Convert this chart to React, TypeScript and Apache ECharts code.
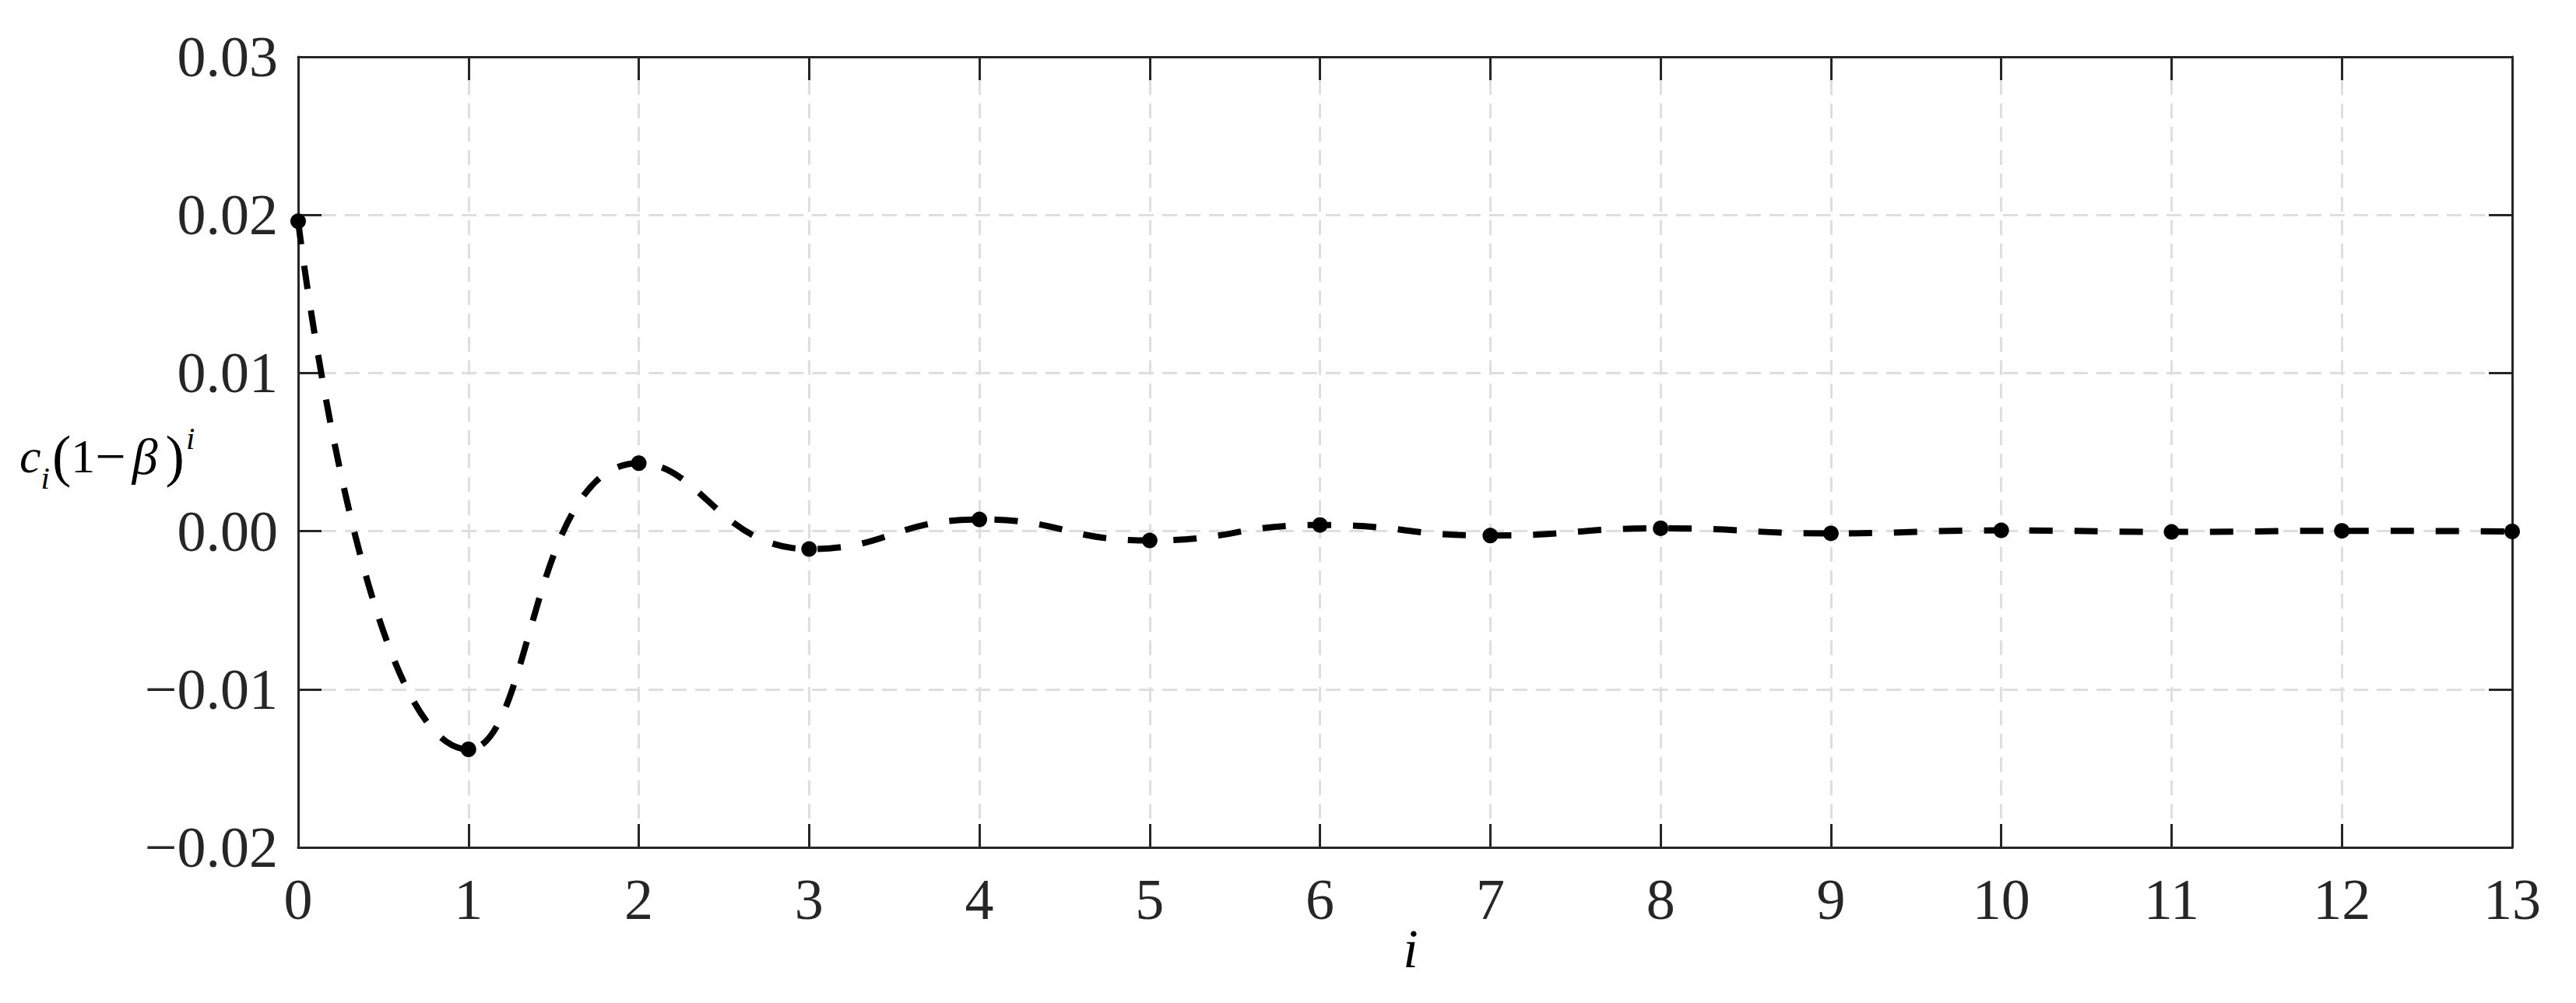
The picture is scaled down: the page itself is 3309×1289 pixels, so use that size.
import React, { useEffect, useRef } from "react";
import * as echarts from "echarts";

// Data
const indexValues = [0, 1, 2, 3, 4, 5, 6, 7, 8, 9, 10, 11, 12, 13];
const seriesValues = [
  0.0196, -0.0138, 0.0043, -0.00113, 0.00074, -0.00059, 0.00039, -0.00028,
  0.00018, -0.00014, 0.00005, -0.00005, 0.00002, -0.00002,
];
const yTickMin = -0.02;
const yTickMax = 0.03;
const yTickStep = 0.01;
const xTickMin = 0;
const xTickMax = 13;
const xTickStep = 1;

const FONT = '"Liberation Serif", "Times New Roman", serif';
const INK = "#262626";
const GRID = "#dedede";

function fmtY(v: number): string {
  const r = Math.round(v * 100) / 100;
  if (Math.abs(r) < 1e-9) return "0.00";
  return (r < 0 ? "\u2212" : "") + Math.abs(r).toFixed(2);
}

export default function App() {
  const ref = useRef<HTMLDivElement>(null);

  useEffect(() => {
    document.body.style.margin = "0";
    if (!ref.current) return;
    const chart = echarts.init(ref.current, undefined, { renderer: "svg" });

    const tickLabel = {
      color: INK,
      fontFamily: FONT,
      fontSize: 74,
    };

    const LH = 100;
    const tok = (size: number, italic: boolean, extra: any = {}) => ({
      fontFamily: FONT,
      fontSize: size,
      fontStyle: italic ? "italic" : "normal",
      fill: "#000000",
      ...extra,
    });

    chart.setOption({
      animation: false,
      backgroundColor: "#ffffff",
      grid: {
        left: 383,
        right: 82,
        top: 73,
        bottom: 200,
        containLabel: false,
      },
      xAxis: [
        {
          type: "value",
          position: "bottom",
          min: xTickMin,
          max: xTickMax,
          interval: xTickStep,
          axisLine: { show: true, onZero: false, lineStyle: { color: INK, width: 3 } },
          axisTick: { show: true, inside: true, length: 30, lineStyle: { color: INK, width: 3 } },
          axisLabel: { ...tickLabel, margin: 30 },
          splitLine: { show: true, lineStyle: { color: GRID, width: 3, type: [19, 11] } },
        },
        {
          type: "value",
          position: "top",
          min: xTickMin,
          max: xTickMax,
          interval: xTickStep,
          axisLine: { show: true, onZero: false, lineStyle: { color: INK, width: 3 } },
          axisTick: { show: true, inside: true, length: 30, lineStyle: { color: INK, width: 3 } },
          axisLabel: { show: false },
          splitLine: { show: false },
        },
      ],
      yAxis: [
        {
          type: "value",
          position: "left",
          min: yTickMin,
          max: yTickMax,
          interval: yTickStep,
          axisLine: { show: true, onZero: false, lineStyle: { color: INK, width: 3 } },
          axisTick: { show: true, inside: true, length: 30, lineStyle: { color: INK, width: 3 } },
          axisLabel: { ...tickLabel, margin: 26, formatter: fmtY },
          splitLine: { show: true, lineStyle: { color: GRID, width: 3, type: [19, 11] } },
        },
        {
          type: "value",
          position: "right",
          min: yTickMin,
          max: yTickMax,
          interval: yTickStep,
          axisLine: { show: true, onZero: false, lineStyle: { color: INK, width: 3 } },
          axisTick: { show: true, inside: true, length: 30, lineStyle: { color: INK, width: 3 } },
          axisLabel: { show: false },
          splitLine: { show: false },
        },
      ],
      series: [
        {
          type: "line",
          xAxisIndex: 0,
          yAxisIndex: 0,
          data: indexValues.map((x, k) => [x, seriesValues[k]]),
          smooth: 0.5,
          clip: false,
          symbol: "circle",
          symbolSize: 20,
          itemStyle: { color: "#000000" },
          lineStyle: { color: "#000000", width: 8, type: [30, 28] },
          z: 5,
        },
      ],
      graphic: [
        {
          type: "text",
          x: 1812,
          y: 1219,
          style: {
            text: "i",
            fontFamily: FONT,
            fontStyle: "italic",
            fontSize: 70,
            fill: "#000000",
            align: "center",
            verticalAlign: "middle",
          },
        },
        {
          type: "text",
          x: 25,
          y: 586,
          style: {
            text: "{c|c}{sub|i}{p|(}{one|1}{minus|\u2212}{b|\u03B2}{q|)}{sup|i}",
            fontFamily: FONT,
            fontSize: 62,
            fill: "#000000",
            align: "left",
            verticalAlign: "middle",
            rich: {
              c: tok(62, true, { lineHeight: LH, verticalAlign: "middle" }),
              sub: tok(41, true, { verticalAlign: "bottom", padding: [0, 0, 2, 0] }),
              p: tok(73, false, { lineHeight: LH, verticalAlign: "middle", padding: [0, 0, 0, 3] }),
              one: tok(62, false, { lineHeight: LH, verticalAlign: "middle" }),
              minus: tok(70, false, { lineHeight: LH, verticalAlign: "middle" }),
              b: tok(66, true, { lineHeight: LH, verticalAlign: "middle", padding: [0, 0, 0, 8] }),
              q: tok(73, false, { lineHeight: LH, verticalAlign: "middle", padding: [0, 0, 0, 10] }),
              sup: tok(41, true, { verticalAlign: "top", padding: [6, 0, 0, 2] }),
            },
          },
        },
      ],
    });

    return () => chart.dispose();
  }, []);

  return <div ref={ref} style={{ width: 3309, height: 1289 }} />;
}
